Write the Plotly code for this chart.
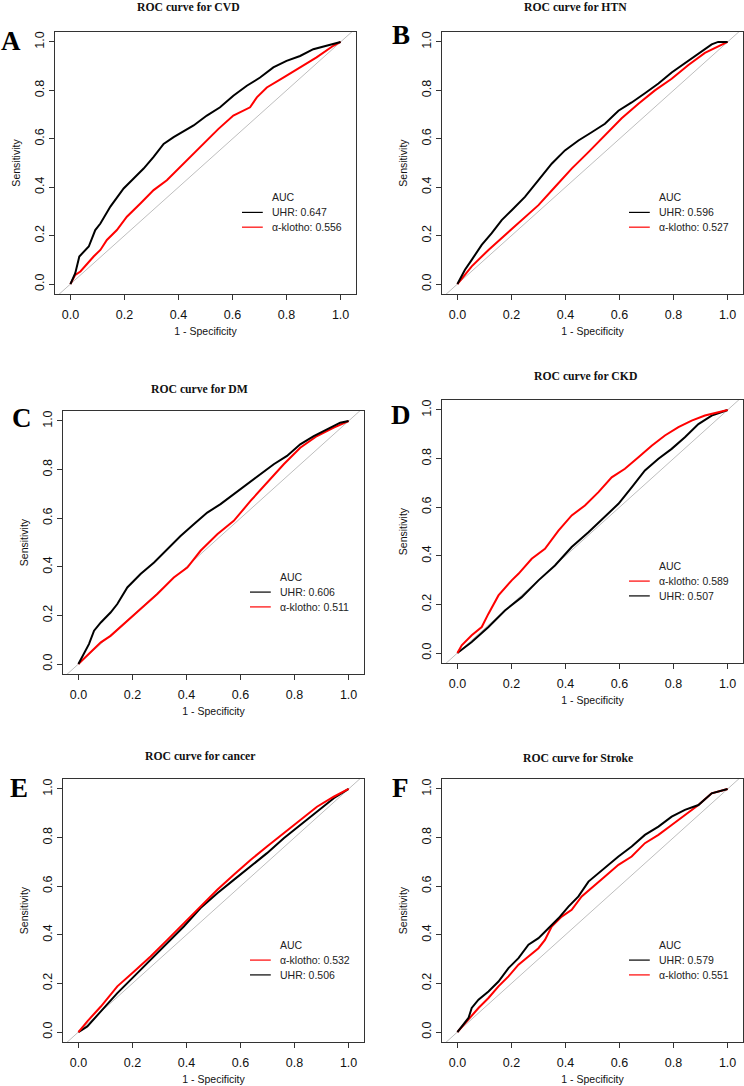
import plotly.graph_objects as go

# ---------------- data ----------------
titles = ["ROC curve for CVD", "ROC curve for HTN", "ROC curve for DM",
          "ROC curve for CKD", "ROC curve for cancer", "ROC curve for Stroke"]
letters = ["A", "B", "C", "D", "E", "F"]
tick_vals = [0.0, 0.2, 0.4, 0.6, 0.8, 1.0]
tick_text = ["0.0", "0.2", "0.4", "0.6", "0.8", "1.0"]

# AUC values (UHR, alpha-klotho) per panel
auc_uhr = [0.647, 0.596, 0.606, 0.507, 0.506, 0.579]
auc_klotho = [0.556, 0.527, 0.511, 0.589, 0.532, 0.551]
# legend order: True -> UHR first
uhr_first = [True, True, True, False, False, True]

# CVD
cvd_uhr_x = [0, 0.018, 0.033, 0.055, 0.068, 0.092, 0.111, 0.148, 0.197, 0.234, 0.271, 0.308, 0.345, 0.382, 0.413,
             0.456, 0.505, 0.554, 0.603, 0.653, 0.702, 0.751, 0.800, 0.850, 0.899, 0.948, 1]
cvd_uhr_y = [0, 0.045, 0.114, 0.14, 0.155, 0.223, 0.25, 0.32, 0.395, 0.436, 0.477, 0.525, 0.579, 0.607, 0.627,
             0.655, 0.696, 0.730, 0.778, 0.819, 0.853, 0.895, 0.922, 0.942, 0.970, 0.984, 1]
cvd_klo_x = [0, 0.018, 0.037, 0.062, 0.086, 0.111, 0.135, 0.172, 0.209, 0.259, 0.308, 0.357, 0.406, 0.456, 0.505,
             0.548, 0.603, 0.665, 0.690, 0.727, 0.788, 0.850, 0.911, 0.973, 1]
cvd_klo_y = [0, 0.038, 0.052, 0.086, 0.114, 0.141, 0.182, 0.223, 0.278, 0.333, 0.388, 0.429, 0.484, 0.538, 0.593,
             0.641, 0.696, 0.730, 0.771, 0.812, 0.853, 0.895, 0.936, 0.984, 1]
# HTN
htn_uhr_x = [0, 0.028, 0.053, 0.09, 0.127, 0.164, 0.201, 0.250, 0.300, 0.349, 0.398, 0.448, 0.497, 0.546, 0.596,
             0.645, 0.694, 0.744, 0.793, 0.842, 0.892, 0.941, 0.965, 1]
htn_uhr_y = [0, 0.059, 0.1, 0.162, 0.21, 0.264, 0.305, 0.36, 0.429, 0.497, 0.552, 0.593, 0.627, 0.662, 0.716,
             0.750, 0.788, 0.828, 0.874, 0.912, 0.950, 0.990, 1.0, 1]
htn_klo_x = [0, 0.053, 0.115, 0.176, 0.238, 0.300, 0.361, 0.423, 0.485, 0.546, 0.608, 0.670, 0.731, 0.793, 0.855,
             0.916, 1]
htn_klo_y = [0, 0.073, 0.141, 0.203, 0.264, 0.326, 0.401, 0.477, 0.545, 0.615, 0.685, 0.745, 0.800, 0.848, 0.905,
             0.955, 1]
# DM
dm_uhr_x = [0, 0.021, 0.039, 0.058, 0.083, 0.119, 0.144, 0.181, 0.230, 0.280, 0.329, 0.378, 0.427, 0.477, 0.526,
            0.575, 0.624, 0.674, 0.723, 0.772, 0.821, 0.871, 0.920, 0.969, 1]
dm_uhr_y = [0, 0.041, 0.082, 0.137, 0.171, 0.212, 0.247, 0.315, 0.370, 0.418, 0.473, 0.527, 0.575, 0.623, 0.658,
            0.699, 0.740, 0.781, 0.822, 0.856, 0.904, 0.938, 0.966, 0.993, 1]
dm_klo_x = [0, 0.033, 0.083, 0.119, 0.169, 0.230, 0.292, 0.353, 0.403, 0.452, 0.514, 0.575, 0.637, 0.698, 0.760,
            0.821, 0.883, 0.945, 1]
dm_klo_y = [0, 0.034, 0.089, 0.116, 0.164, 0.226, 0.288, 0.356, 0.397, 0.466, 0.534, 0.589, 0.671, 0.747, 0.822,
            0.890, 0.938, 0.973, 1]
# CKD
ckd_uhr_x = [0, 0.053, 0.115, 0.176, 0.238, 0.300, 0.361, 0.423, 0.485, 0.546, 0.596, 0.645, 0.694, 0.744, 0.793,
             0.842, 0.892, 0.941, 1]
ckd_uhr_y = [0, 0.045, 0.107, 0.175, 0.230, 0.299, 0.360, 0.436, 0.497, 0.559, 0.614, 0.682, 0.751, 0.799, 0.840,
             0.888, 0.942, 0.977, 1]
ckd_klo_x = [0, 0.016, 0.053, 0.09, 0.115, 0.152, 0.201, 0.226, 0.275, 0.324, 0.374, 0.423, 0.472, 0.522, 0.571,
             0.620, 0.670, 0.719, 0.768, 0.818, 0.867, 0.916, 1]
ckd_klo_y = [0, 0.032, 0.073, 0.107, 0.162, 0.237, 0.299, 0.326, 0.388, 0.429, 0.504, 0.566, 0.607, 0.662, 0.723,
             0.758, 0.805, 0.853, 0.895, 0.929, 0.956, 0.977, 1]
# cancer
can_uhr_x = [0, 0.033, 0.083, 0.144, 0.206, 0.267, 0.329, 0.390, 0.452, 0.514, 0.575, 0.637, 0.698, 0.760, 0.821,
             0.883, 0.945, 1]
can_uhr_y = [0, 0.023, 0.085, 0.160, 0.229, 0.297, 0.366, 0.434, 0.510, 0.571, 0.626, 0.681, 0.736, 0.797, 0.852,
             0.907, 0.962, 1]
can_klo_x = [0, 0.033, 0.083, 0.144, 0.206, 0.267, 0.329, 0.390, 0.452, 0.514, 0.575, 0.637, 0.698, 0.760, 0.821,
             0.883, 0.945, 1]
can_klo_y = [0, 0.044, 0.105, 0.188, 0.249, 0.311, 0.379, 0.448, 0.516, 0.585, 0.647, 0.708, 0.763, 0.818, 0.873,
             0.927, 0.968, 1]
# Stroke
str_uhr_x = [0, 0.041, 0.053, 0.078, 0.115, 0.152, 0.189, 0.226, 0.263, 0.300, 0.337, 0.374, 0.411, 0.448, 0.485,
             0.522, 0.559, 0.596, 0.645, 0.694, 0.744, 0.793, 0.842, 0.892, 0.941, 1]
str_uhr_y = [0, 0.058, 0.099, 0.133, 0.167, 0.208, 0.263, 0.304, 0.359, 0.386, 0.427, 0.468, 0.516, 0.558, 0.619,
             0.653, 0.688, 0.722, 0.763, 0.811, 0.845, 0.886, 0.914, 0.934, 0.982, 1]
str_klo_x = [0, 0.041, 0.078, 0.115, 0.152, 0.189, 0.226, 0.263, 0.300, 0.324, 0.349, 0.386, 0.423, 0.460, 0.497,
             0.546, 0.596, 0.645, 0.694, 0.744, 0.793, 0.842, 0.892, 0.941, 1]
str_klo_y = [0, 0.051, 0.099, 0.140, 0.188, 0.229, 0.277, 0.311, 0.345, 0.379, 0.434, 0.475, 0.503, 0.558, 0.592,
             0.640, 0.688, 0.722, 0.777, 0.811, 0.852, 0.893, 0.934, 0.982, 1]

uhr_x = [cvd_uhr_x, htn_uhr_x, dm_uhr_x, ckd_uhr_x, can_uhr_x, str_uhr_x]
uhr_y = [cvd_uhr_y, htn_uhr_y, dm_uhr_y, ckd_uhr_y, can_uhr_y, str_uhr_y]
klo_x = [cvd_klo_x, htn_klo_x, dm_klo_x, ckd_klo_x, can_klo_x, str_klo_x]
klo_y = [cvd_klo_y, htn_klo_y, dm_klo_y, ckd_klo_y, can_klo_y, str_klo_y]

# ---------------- layout geometry (pixels) ----------------
W, H = 744, 1086
frames = [(55, 356, 32, 294), (442, 743, 32, 294),
          (63, 364, 411, 674), (442, 743, 400, 663),
          (63, 364, 779, 1042), (442, 743, 779, 1042)]
title_pos = [(188, 7), (575, 7), (199, 389), (585, 376), (200, 756), (578, 758)]
letter_pos = [(11, 41), (401, 35), (22, 418), (401, 415), (19, 788), (400, 788)]
XR = [-0.057, 1.057]
YR = [-0.041, 1.041]

BLACK = "#000000"
RED = "#FF0000"
GREY = "#BEBEBE"
SANS = "Liberation Sans, Arial, sans-serif"
SERIF = "Liberation Serif, Times New Roman, serif"

fig = go.Figure()
annotations = []
shapes = []
layout_axes = {}

for i in range(6):
    n = "" if i == 0 else str(i + 1)
    xa, ya = "x" + n, "y" + n
    x0, x1, y0, y1 = frames[i]
    layout_axes["xaxis" + n] = dict(
        domain=[x0 / W, x1 / W], range=XR, anchor=ya,
        tickvals=tick_vals, ticktext=tick_text, ticks="outside", ticklen=5,
        tickcolor="#333", tickwidth=1, showgrid=False, zeroline=False,
        showline=True, mirror=True, linecolor="#333", linewidth=1.3,
        ticklabelstandoff=4,
        tickfont=dict(family=SANS, size=12.5, color="#111"),
        title=dict(text="1 - Specificity", font=dict(family=SANS, size=10.5, color="#111"), standoff=6),
        fixedrange=True)
    layout_axes["yaxis" + n] = dict(
        domain=[1 - y1 / H, 1 - y0 / H], range=YR, anchor=xa,
        tickvals=tick_vals, ticktext=tick_text, ticks="outside", ticklen=5,
        tickcolor="#333", tickwidth=1, showgrid=False, zeroline=False,
        showline=True, mirror=True, linecolor="#333", linewidth=1.3,
        tickangle=-90,
        tickfont=dict(family=SANS, size=12.5, color="#111"),
        title=dict(text="Sensitivity", font=dict(family=SANS, size=10.5, color="#111"), standoff=10),
        fixedrange=True)

    # reference diagonal
    fig.add_trace(go.Scatter(x=[-0.2, 1.2], y=[-0.2, 1.2], mode="lines",
                             line=dict(color=GREY, width=1), xaxis=xa, yaxis=ya,
                             showlegend=False, hoverinfo="skip"))
    series = [(uhr_x[i], uhr_y[i], BLACK, "UHR", auc_uhr[i]),
              (klo_x[i], klo_y[i], RED, "α-klotho", auc_klotho[i])]
    if not uhr_first[i]:
        series = series[::-1]
    for sx, sy, col, name, auc in series[::-1]:
        fig.add_trace(go.Scatter(x=sx, y=sy, mode="lines", line=dict(color=col, width=2),
                                 xaxis=xa, yaxis=ya, showlegend=False, name=name))

    # panel legend
    leg_x_text = 0.738
    leg_y = [0.358, 0.296, 0.235]
    annotations.append(dict(x=leg_x_text, y=leg_y[0], xref=xa, yref=ya, text="AUC",
                            showarrow=False, xanchor="left", yanchor="middle",
                            font=dict(family=SANS, size=10.5, color="#222")))
    for k, (sx, sy, col, name, auc) in enumerate(series):
        annotations.append(dict(x=leg_x_text, y=leg_y[k + 1], xref=xa, yref=ya,
                                text=f"{name}: {auc:.3f}", showarrow=False,
                                xanchor="left", yanchor="middle",
                                font=dict(family=SANS, size=10.5, color="#222")))
        shapes.append(dict(type="line", xref=xa, yref=ya, x0=0.635, x1=0.712,
                           y0=leg_y[k + 1], y1=leg_y[k + 1],
                           line=dict(color=col, width=1.2)))

    # title
    tx, ty = title_pos[i]
    annotations.append(dict(x=tx / W, y=1 - ty / H, xref="paper", yref="paper",
                            text="<b>" + titles[i] + "</b>", showarrow=False,
                            xanchor="center", yanchor="middle",
                            font=dict(family=SERIF, size=11.7, color="#111")))
    # panel letter
    lx, ly = letter_pos[i]
    annotations.append(dict(x=lx / W, y=1 - ly / H, xref="paper", yref="paper",
                            text="<b>" + letters[i] + "</b>", showarrow=False,
                            xanchor="center", yanchor="middle",
                            font=dict(family=SERIF, size=27, color="#000")))

fig.update_layout(
    width=W, height=H, margin=dict(l=0, r=0, t=0, b=0),
    paper_bgcolor="white", plot_bgcolor="white",
    showlegend=False, annotations=annotations, shapes=shapes,
    **layout_axes)

fig.write_html("out.html", config={"displayModeBar": False},
               post_script="document.body.style.margin='0';document.body.style.overflow='hidden';")
